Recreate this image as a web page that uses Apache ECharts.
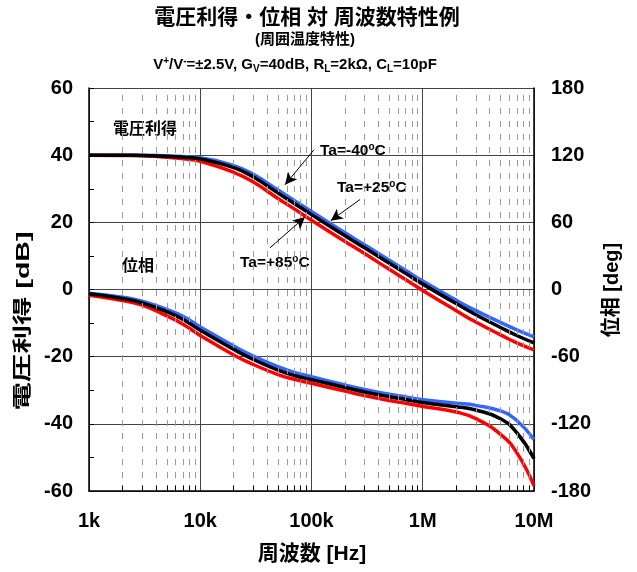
<!DOCTYPE html>
<html><head><meta charset="utf-8">
<script src="https://cdn.jsdelivr.net/npm/echarts@6/dist/echarts.min.js"></script>
<style>html,body{margin:0;padding:0;background:#fff}#c{width:637px;height:572px}</style>
</head><body><div id="c"></div>
<script>
var freq = [1e3,2e3,3e3,5e3,7e3,1e4,2e4,3e4,5e4,7e4,1e5,2e5,3e5,5e5,7e5,1e6,2e6,3e6,5e6,7e6,1e7];
var gainM40 = [40,40,40,39.8,39.6,39.2,36.9,34.3,29.6,26.5,23.2,16.9,13.3,8.7,5.7,2.5,-3.2,-6.3,-9.8,-12.0,-14.1];
var gain25  = [40,40,39.9,39.7,39.4,38.9,36.3,33.5,28.7,25.6,22.3,16.0,12.4,7.8,4.8,1.6,-4.2,-7.5,-11.3,-13.7,-15.9];
var gain85  = [40,39.9,39.8,39.4,38.9,38.2,34.9,32.0,27.1,24.0,20.6,14.3,10.7,6.0,3.0,-0.3,-6.3,-9.7,-13.5,-15.9,-18.0];
var phaseM40 = [-3.3,-6.9,-10.4,-17.8,-24,-33.5,-50.5,-59.5,-69,-74,-78,-85.3,-89.3,-93.5,-95.9,-98.5,-101.5,-103.5,-108.5,-117,-133.9];
var phase25  = [-3.8,-8.0,-11.9,-19.9,-26.8,-36.5,-53.5,-62.5,-72,-76.8,-80.5,-87.5,-91.5,-95.8,-98.2,-101,-104.7,-107.7,-115.4,-127.9,-151.1];
var phase85  = [-5.1,-9.8,-14.0,-23.5,-31,-41,-58.5,-67,-76,-80.3,-83.8,-90.8,-94.8,-99.2,-101.7,-104.5,-109.5,-115.4,-129.4,-145.7,-175.5];
var xTickLabels = {1000:'1k',10000:'10k',100000:'100k',1000000:'1M',10000000:'10M'};
var gainTicks = [-60,-40,-20,0,20,40,60];
var phaseTicks = [-180,-120,-60,0,60,120,180];
var minorFreqs = [];
[1e3,1e4,1e5,1e6].forEach(function(d){for(var k=2;k<=9;k++)minorFreqs.push(d*k);});
var arrows = [
  [[105300,41.6],[57800,31.2]],
  [[273000,26.8],[148800,20.5]],
  [[42400,12.4],[87400,21.6]]
];

var FF = '"Liberation Sans", Arial, "Noto Sans CJK JP", sans-serif';
function pairs(ys){return freq.map(function(f,i){return [f,ys[i]];});}

var chart = echarts.init(document.getElementById('c'), null, {renderer:'canvas'});
var minorLines = minorFreqs.map(function(f){return {xAxis:f};});
var minorTicks = minorFreqs.map(function(f){return [{coord:[f,-60]},{coord:[f,-58.4]}];});
var arrowLines = arrows.map(function(a){return [{coord:a[0]},{coord:a[1]}];});
function curve(name, ys, axis, color){
  return {name:name,type:'line',yAxisIndex:axis,data:pairs(ys),smooth:true,showSymbol:false,
    lineStyle:{color:color,width:3.5}};
}
var supRich = {sup:{fontSize:10,fontWeight:'bold',fontFamily:FF,verticalAlign:'top',padding:[0,0,7,0]}};

chart.setOption({
  animation:false,
  grid:{left:89,right:103,top:88,bottom:81},
  xAxis:{type:'log',logBase:10,min:1000,max:1e7,
    axisLine:{show:true,onZero:false,lineStyle:{color:'#000',width:1.5}},
    axisTick:{show:false},
    splitLine:{show:true,lineStyle:{color:'#444',width:1}},
    axisLabel:{margin:20,fontSize:20,fontWeight:'bold',color:'#000',fontFamily:FF,
      formatter:function(v){return xTickLabels[Math.round(v)]||'';}}
  },
  yAxis:[
    {type:'value',min:-60,max:60,interval:20,position:'left',
     axisLine:{show:true,lineStyle:{color:'#000',width:1.5}},
     axisTick:{show:true,inside:true,length:5,lineStyle:{color:'#000'}},
     minorTick:{show:true,splitNumber:2,length:5,lineStyle:{color:'#000'}},
     splitLine:{show:true,lineStyle:{color:'#444',width:1}},
     axisLabel:{margin:16,fontSize:20,fontWeight:'bold',color:'#000',fontFamily:FF,
       formatter:function(v){return gainTicks.indexOf(v)>=0?String(v):'';}}
    },
    {type:'value',min:-180,max:180,interval:60,position:'right',
     axisLine:{show:true,lineStyle:{color:'#000',width:1.5}},
     axisTick:{show:false},
     splitLine:{show:false},
     axisLabel:{margin:17,fontSize:20,fontWeight:'bold',color:'#000',fontFamily:FF,
       formatter:function(v){return phaseTicks.indexOf(v)>=0?String(v):'';}}
    }
  ],
  series:[
    {type:'line',data:[],yAxisIndex:0,silent:true,
     markLine:{silent:true,symbol:['none','none'],label:{show:false},
       lineStyle:{color:'#999',width:1,type:[6,7]},data:minorLines}},
    {type:'line',data:[],yAxisIndex:0,silent:true,
     markLine:{silent:true,symbol:['none','none'],label:{show:false},
       lineStyle:{color:'#000',width:1,type:'solid'},data:minorTicks}},
    curve('g-40',gainM40,0,'#3366ff'),
    curve('g85',gain85,0,'#ff0000'),
    curve('g25',gain25,0,'#000'),
    curve('p-40',phaseM40,1,'#3366ff'),
    curve('p85',phase85,1,'#ff0000'),
    curve('p25',phase25,1,'#000'),
    {type:'line',data:[],yAxisIndex:0,silent:true,z:10,
     markLine:{silent:true,symbol:['none','arrow'],symbolSize:[9,12],label:{show:false},
       lineStyle:{color:'#000',width:1,type:'solid'},data:arrowLines}}
  ],
  graphic:[
    {type:'text',x:307,y:18,style:{text:'電圧利得・位相 対 周波数特性例',font:'bold 21px '+FF,fill:'#000',textAlign:'center',textVerticalAlign:'middle'}},
    {type:'text',x:305,y:40,style:{text:'(周囲温度特性)',font:'bold 15px '+FF,fill:'#000',textAlign:'center',textVerticalAlign:'middle'}},
    {type:'text',x:295,y:65,style:{
      text:'V{sup|+}/V{sup|-}=±2.5V, G{sub|V}=40dB, R{sub|L}=2kΩ, C{sub|L}=10pF',
      font:'bold 15px '+FF,fill:'#000',textAlign:'center',textVerticalAlign:'middle',
      rich:{sup:{fontSize:10,fontWeight:'bold',fontFamily:FF,verticalAlign:'top',lineHeight:18,padding:[0,0,8,0]},
            sub:{fontSize:10,fontWeight:'bold',fontFamily:FF,verticalAlign:'bottom',lineHeight:18,padding:[8,0,0,0]}}}},
    {type:'text',x:24,y:321,rotation:Math.PI/2,scaleX:1.5,style:{text:'電圧利得 [dB]',font:'bold 19px '+FF,fill:'#000',textAlign:'center',textVerticalAlign:'middle'}},
    {type:'text',x:612,y:290,rotation:Math.PI/2,style:{text:'位相 [deg]',font:'bold 20px '+FF,fill:'#000',textAlign:'center',textVerticalAlign:'middle'}},
    {type:'text',x:312,y:554,style:{text:'周波数 [Hz]',font:'bold 21px '+FF,fill:'#000',textAlign:'center',textVerticalAlign:'middle'}},
    {type:'text',x:145,y:130,style:{text:'電圧利得',font:'bold 16px '+FF,fill:'#000',textAlign:'center',textVerticalAlign:'middle'}},
    {type:'text',x:138,y:267,style:{text:'位相',font:'bold 16px '+FF,fill:'#000',textAlign:'center',textVerticalAlign:'middle'}},
    {type:'text',x:320,y:151,style:{text:'Ta=-40{sup|o}C',font:'bold 15.5px '+FF,fill:'#000',textAlign:'left',textVerticalAlign:'middle',rich:supRich}},
    {type:'text',x:337,y:188,style:{text:'Ta=+25{sup|o}C',font:'bold 15.5px '+FF,fill:'#000',textAlign:'left',textVerticalAlign:'middle',rich:supRich}},
    {type:'text',x:240,y:263,style:{text:'Ta=+85{sup|o}C',font:'bold 15.5px '+FF,fill:'#000',textAlign:'left',textVerticalAlign:'middle',rich:supRich}}
  ]
});
</script></body></html>
